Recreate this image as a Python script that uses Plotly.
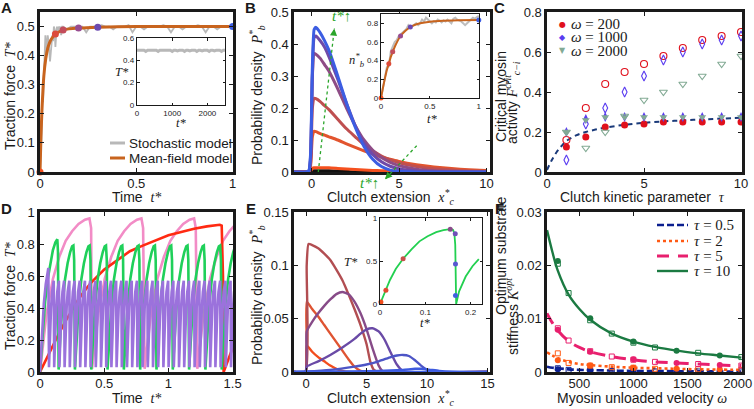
import plotly.graph_objects as go

W, H = 754, 409
SANS = "Liberation Sans"
SERIF = "Liberation Serif"
INK = "#1a1a1a"
GREEN_ARROW = "#2aa52a"
NB = "\u00a0"

# ---------------- data ----------------
# A : traction force vs time
tA_mf = [0, 0.005, 0.01, 0.02, 0.03, 0.04, 0.05, 0.06, 0.08, 0.1, 0.12, 0.15, 0.2, 0.3, 0.5, 0.75, 1.0]
TA_mf = [0, 0.12, 0.21, 0.33, 0.39, 0.425, 0.445, 0.458, 0.474, 0.482, 0.488, 0.492, 0.495, 0.498, 0.5, 0.5, 0.5]
tA_early = [0, 0.004, 0.008, 0.012, 0.016, 0.02, 0.024, 0.028, 0.032, 0.036, 0.04, 0.044, 0.048, 0.052,
            0.056, 0.06, 0.064, 0.068, 0.072, 0.076, 0.08, 0.084, 0.088, 0.092, 0.096, 0.1, 0.105, 0.11, 0.115]
TA_early = [0, 0.05, 0.13, 0.25, 0.24, 0.33, 0.42, 0.47, 0.41, 0.44, 0.47, 0.45, 0.40, 0.38,
            0.41, 0.46, 0.47, 0.45, 0.50, 0.49, 0.43, 0.47, 0.50, 0.48, 0.50, 0.49, 0.50, 0.47, 0.50]
TA_late = [0.50, 0.49, 0.50, 0.50, 0.50, 0.50, 0.48, 0.50, 0.50, 0.50, 0.505, 0.50, 0.50, 0.49, 0.50,
           0.50, 0.50, 0.505, 0.48, 0.50, 0.50, 0.49, 0.50, 0.50, 0.50, 0.50, 0.505, 0.50, 0.48, 0.50,
           0.50, 0.49, 0.50, 0.50, 0.50, 0.505, 0.50, 0.48, 0.50, 0.50, 0.49, 0.50, 0.50, 0.50, 0.50]
t_marks = [0, 0.08, 0.12, 0.2, 0.3, 1.0]
TA_marks = [0, 0.474, 0.488, 0.495, 0.498, 0.5]
mark_colors = ["#f5501e", "#dc4a3a", "#c34d5c", "#984c90", "#6c4ab0", "#3c5de2"]
TA_inset = [0.49, 0.49, 0.485, 0.49, 0.49, 0.48, 0.49, 0.49, 0.49, 0.485, 0.49, 0.49, 0.48, 0.49, 0.49,
            0.49, 0.485, 0.49, 0.49, 0.49, 0.48, 0.49, 0.49, 0.485, 0.49, 0.49, 0.49, 0.48, 0.49, 0.49,
            0.485, 0.49, 0.49, 0.49, 0.48, 0.49, 0.49, 0.485, 0.49, 0.49, 0.49, 0.48, 0.49, 0.49, 0.485,
            0.49, 0.49, 0.49, 0.48, 0.49, 0.49]

# B : bond-length densities
xB = [-1, -0.3, -0.15, -0.05, 0.05, 0.15, 0.25, 0.5, 0.75, 1, 1.5, 2, 2.5, 3, 3.5, 4, 4.5, 5, 6, 7, 8, 9, 10]
PB_black = [0, 0, 0, 0.002, 0.004, 0.004, 0.004, 0.004, 0.004, 0.004, 0.003, 0.002, 0, 0, 0, 0, 0, 0, 0, 0, 0, 0, 0]
PB_t1 = [0, 0, 0, 0.003, 0.011, 0.013, 0.013, 0.013, 0.013, 0.013, 0.011, 0.009, 0.0075, 0.006, 0.005, 0.004, 0.0035, 0.003, 0.002, 0.001, 0.0005, 0, 0]
PB_t2 = [0, 0, 0.001, 0.02, 0.11, 0.127, 0.126, 0.12, 0.115, 0.11, 0.1, 0.088, 0.077, 0.066, 0.056, 0.047, 0.04, 0.033, 0.023, 0.016, 0.011, 0.007, 0.005]
PB_t3 = [0, 0, 0.001, 0.03, 0.2, 0.23, 0.229, 0.22, 0.207, 0.195, 0.165, 0.135, 0.11, 0.085, 0.066, 0.05, 0.038, 0.029, 0.017, 0.01, 0.006, 0.003, 0.002]
PB_t4 = [0, 0, 0.002, 0.04, 0.3, 0.37, 0.368, 0.355, 0.335, 0.315, 0.26, 0.2, 0.145, 0.1, 0.068, 0.045, 0.03, 0.02, 0.009, 0.004, 0.002, 0.001, 0]
PB_t5 = [0, 0, 0.003, 0.05, 0.3, 0.42, 0.425, 0.41, 0.39, 0.36, 0.29, 0.215, 0.145, 0.09, 0.055, 0.032, 0.018, 0.01, 0.003, 0.001, 0, 0, 0]
PB_t6 = [0, 0, 0.004, 0.06, 0.33, 0.445, 0.452, 0.435, 0.41, 0.38, 0.30, 0.215, 0.14, 0.08, 0.04, 0.017, 0.006, 0.002, 0, 0, 0, 0, 0]
B_colors = ["#111111", "#f5501e", "#e2542e", "#bf4f50", "#8e4c86", "#6f4aa8", "#3c5de2"]
tB_mf = [0, 0.02, 0.04, 0.06, 0.08, 0.1, 0.12, 0.15, 0.2, 0.25, 0.3, 0.35, 0.4, 0.5, 0.6, 0.8, 1.0]
nB_mf = [0, 0.11, 0.21, 0.3, 0.366, 0.44, 0.495, 0.57, 0.664, 0.72, 0.76, 0.785, 0.8, 0.818, 0.826, 0.832, 0.836]
nB_st = [0, 0.12, 0.22, 0.33, 0.34, 0.5, 0.55, 0.6, 0.62, 0.66, 0.68, 0.7, 0.71, 0.74, 0.78, 0.76, 0.77,
         0.79, 0.8, 0.78, 0.8, 0.84, 0.82, 0.86, 0.84, 0.83, 0.8, 0.82, 0.81, 0.84, 0.83, 0.81, 0.83,
         0.82, 0.84, 0.82, 0.8, 0.85, 0.86, 0.84, 0.83, 0.82, 0.8, 0.78, 0.8, 0.82, 0.84, 0.86, 0.85,
         0.87, 0.88]
nB_marks = [0, 0.366, 0.495, 0.664, 0.76, 0.836]

# C : critical myosin activity
tau_C = [1, 2, 3, 4, 5, 6, 7, 8, 9, 10]
F200_open = [0.16, 0.32, 0.44, 0.50, 0.54, 0.58, 0.62, 0.66, 0.68, 0.70]
F200_fill = [0.125, 0.175, 0.225, 0.235, 0.24, 0.25, 0.25, 0.25, 0.25, 0.25]
F1000_open = [0.06, 0.24, 0.32, 0.40, 0.48, 0.56, 0.60, 0.64, 0.66, 0.68]
F1000_fill = [0.20, 0.265, 0.275, 0.275, 0.275, 0.275, 0.275, 0.275, 0.275, 0.275]
F2000_open = [0.20, 0.12, 0.20, 0.28, 0.36, 0.40, 0.44, 0.48, 0.54, 0.58]
F2000_fill = [0.20, 0.26, 0.275, 0.275, 0.275, 0.275, 0.275, 0.275, 0.275, 0.275]
tau_fit = [0, 0.25, 0.5, 0.75, 1, 1.5, 2, 2.5, 3, 4, 5, 6, 7, 8, 9, 10]
F_fit = [0.01, 0.06, 0.1, 0.13, 0.155, 0.183, 0.2, 0.212, 0.222, 0.236, 0.246, 0.253, 0.258, 0.263, 0.267, 0.271]
C_colors = ["#e0101c", "#5a3cf0", "#82aa94"]

red_t = [0, 0.05, 0.1, 0.15, 0.2, 0.25, 0.3, 0.35, 0.4, 0.5, 0.6, 0.7, 0.8, 0.9, 1.0, 1.1, 1.2, 1.3, 1.4, 1.415, 1.425, 1.43, 1.5]
red_T = [0, 0.085, 0.165, 0.245, 0.32, 0.39, 0.455, 0.51, 0.56, 0.64, 0.7, 0.755, 0.79, 0.825, 0.855, 0.875, 0.895, 0.91, 0.92, 0.915, 0.6, 0.0, 0.15]
pink_first_t = [0, 0.025, 0.05, 0.1, 0.15, 0.2, 0.25, 0.3, 0.35, 0.385, 0.398, 0.405]
pink_first_T = [0, 0.2, 0.36, 0.58, 0.72, 0.82, 0.88, 0.925, 0.952, 0.96, 0.9, 0.02]
pink_cycle_dt = [0, 0.025, 0.05, 0.1, 0.15, 0.2, 0.25, 0.3, 0.35, 0.385, 0.398, 0.41]
pink_cycle_T = [0.02, 0.21, 0.37, 0.585, 0.72, 0.82, 0.88, 0.925, 0.952, 0.96, 0.9, 0.02]
green_first_t = [0, 0.02, 0.04, 0.06, 0.08, 0.1, 0.12, 0.135, 0.14, 0.145]
green_first_T = [0, 0.25, 0.44, 0.58, 0.68, 0.76, 0.81, 0.83, 0.75, 0.015]
green_cycle_dt = [0, 0.015, 0.03, 0.05, 0.07, 0.09, 0.105, 0.115, 0.121, 0.127]
green_cycle_T = [0.015, 0.25, 0.42, 0.58, 0.68, 0.75, 0.785, 0.79, 0.7, 0.015]
purple_first_t = [0, 0.015, 0.03, 0.045, 0.06, 0.065, 0.07]
purple_first_T = [0, 0.25, 0.43, 0.55, 0.63, 0.65, 0.03]
purple_cycle_dt = [0, 0.008, 0.016, 0.024, 0.032, 0.037, 0.0405]
purple_cycle_T = [0.03, 0.25, 0.4, 0.5, 0.56, 0.57, 0.03]
D_colors = {"red": "#ff2a12", "pink": "#f28cc6", "green": "#1fd05a", "purple": "#9b72dc"}

# E : bond-length densities (oscillating case)
E_curves = [
    ([-1, -0.05, 0.05, 0.5, 1, 1.5, 2, 2.5, 3, 3.5, 15],
     [0, 0, 0.025, 0.019, 0.014, 0.01, 0.006, 0.003, 0.001, 0, 0], "#f24d1d"),
    ([-1, -0.05, 0.05, 0.5, 1, 1.5, 2, 2.5, 3, 3.5, 4, 4.5, 5, 15],
     [0, 0, 0.066, 0.059, 0.052, 0.044, 0.036, 0.028, 0.02, 0.012, 0.005, 0.001, 0, 0], "#df5432"),
    ([-1, -0.05, 0.05, 0.2, 0.5, 1, 1.5, 2, 2.5, 3, 3.5, 4, 4.5, 5, 5.3, 5.6, 6, 15],
     [0, 0, 0.1, 0.12, 0.119, 0.116, 0.111, 0.105, 0.096, 0.086, 0.073, 0.059, 0.044, 0.026, 0.01, 0.002, 0, 0], "#b24e52"),
    ([-1, -0.05, 0.05, 0.5, 1, 1.5, 2, 2.5, 3, 3.5, 4, 4.5, 5, 5.5, 6, 6.3, 6.6, 15],
     [0, 0, 0.038, 0.047, 0.055, 0.062, 0.068, 0.073, 0.075, 0.073, 0.066, 0.055, 0.04, 0.022, 0.006, 0.001, 0, 0], "#874b88"),
    ([-1, -0.05, 0.05, 1, 2, 3, 4, 4.5, 5, 5.5, 6, 6.5, 7, 7.5, 8, 8.5, 15],
     [0, 0, 0.005, 0.01, 0.016, 0.023, 0.031, 0.036, 0.04, 0.041, 0.038, 0.03, 0.018, 0.007, 0.001, 0, 0], "#6a4aa6"),
    ([-1, 0, 2, 4, 5, 6, 7, 7.5, 8, 8.5, 9, 9.5, 10, 10.5, 15],
     [0, 0.0005, 0.002, 0.005, 0.007, 0.01, 0.014, 0.0155, 0.016, 0.015, 0.011, 0.006, 0.002, 0, 0], "#4d55c6"),
    ([-1, 0, 4, 6, 8, 9, 9.5, 10, 11, 12, 13, 15],
     [0, 0, 0.0005, 0.001, 0.002, 0.003, 0.003, 0.0025, 0.001, 0.0002, 0, 0], "#3d5ade"),
    ([-1, 15], [0, 0], "#4262e6"),
]
tE = [0, 0.005, 0.013, 0.022, 0.035, 0.051, 0.07, 0.087, 0.105, 0.124, 0.14, 0.155, 0.161, 0.164, 0.166,
      0.167, 0.168, 0.1745, 0.18, 0.189, 0.204, 0.218]
TE = [0, 0.06, 0.16, 0.28, 0.41, 0.527, 0.64, 0.73, 0.79, 0.837, 0.86, 0.872, 0.864, 0.826, 0.69,
      0.35, 0.0, 0.147, 0.22, 0.32, 0.44, 0.523]
tE_marks = [0.002, 0.013, 0.051, 0.155, 0.166, 0.1665, 0.1665]
TE_marks = [0.023, 0.16, 0.527, 0.872, 0.818, 0.465, 0.1]
E_mark_colors = ["#f24d1d", "#e04a30", "#c8504a", "#8a4c8a", "#7050b8", "#5858d0", "#4060e0"]

# F : optimum substrate stiffness
wF = [200, 250, 300, 400, 500, 600, 800, 1000, 1200, 1400, 1600, 1800, 2000]
K10 = [0.0266, 0.0225, 0.019, 0.0145, 0.0118, 0.0098, 0.0072, 0.0057, 0.0047, 0.0040, 0.0035, 0.0031, 0.0027]
K5 = [0.011, 0.0092, 0.0078, 0.0058, 0.0046, 0.0038, 0.0029, 0.0023, 0.0019, 0.0017, 0.0015, 0.0013, 0.0012]
K2 = [0.0037, 0.0031, 0.0026, 0.0019, 0.0015, 0.0013, 0.001, 0.0008, 0.0007, 0.0006, 0.0005, 0.00045, 0.0004]
K05 = [0.001, 0.0008, 0.0007, 0.0005, 0.0004, 0.00035, 0.00027, 0.0002, 0.00017, 0.00015, 0.00013, 0.00011, 0.0001]
wF_fill = [300, 600, 1000, 1400, 1800]
wF_open = [300, 400, 600, 800, 1000, 1200, 1600, 2000]
K10_fill = [0.0208, 0.0101, 0.0057, 0.0040, 0.0031]
K10_open = [0.0203, 0.0148, 0.0097, 0.0072, 0.0055, 0.0046, 0.0036, 0.0028]
K5_fill = [0.0079, 0.0038, 0.0024, 0.0017, 0.0013]
K5_open = [0.0082, 0.0059, 0.0039, 0.0029, 0.0023, 0.0019, 0.0015, 0.0012]
K2_fill = [0.0022, 0.0012, 0.0008, 0.0006, 0.0005]
K2_open = [0.0035, 0.0017, 0.0012, 0.0009, 0.0008, 0.0006, 0.0005, 0.0004]
K05_fill = [0.0005, 0.0003, 0.0002, 0.00015, 0.0001]
K05_open = [0.0007, 0.0004, 0.0003, 0.0002, 0.0002, 0.0001, 0.0001, 0.0001]
F_series = [("0.5", K05, K05_fill, K05_open, "#0b1f8f", "7px,3px", 2.6),
            ("2", K2, K2_fill, K2_open, "#ff5a14", "dot", 2.6),
            ("5", K5, K5_fill, K5_open, "#e8206e", "12px,9px", 3),
            ("10", K10, K10_fill, K10_open, "#1b7a42", None, 2.4)]

# ---------------- helpers ----------------
def M(s):
    return f'<span style="font-family:{SERIF}"><i>{s}</i></span>'

def px(x):
    return x / W

def py(y):
    return 1 - y / H

fig = go.Figure()

def add(x, y, xa, ya, mode="lines", **kw):
    fig.add_trace(go.Scatter(x=x, y=y, mode=mode, xaxis=xa, yaxis=ya, showlegend=False,
                             hoverinfo="skip", **kw))

def tile(first_t, first_T, cyc_dt, cyc_T, t_end):
    t, T = list(first_t), list(first_T)
    start, period = first_t[-1], cyc_dt[-1]
    while start < t_end:
        for dt, v in zip(cyc_dt[1:], cyc_T[1:]):
            t.append(start + dt)
            T.append(v)
        start += period
    return t, T

# ---------------- A ----------------
tA_late = [0.12 + 0.02 * i for i in range(len(TA_late))]
add(tA_early + tA_late, TA_early + TA_late, "x", "y", line=dict(color="#b8b8b8", width=1.8))
add(tA_mf, TA_mf, "x", "y", line=dict(color="#c8641e", width=3, shape="spline", smoothing=0.6))
add(t_marks, TA_marks, "x", "y", mode="markers", marker=dict(color=mark_colors, size=7), cliponaxis=False)
tA_in = [50 * i for i in range(len(TA_inset))]
add(tA_in, TA_inset, "x7", "y7", line=dict(color="#b8b8b8", width=3))

# ---------------- B ----------------
for yv, c in zip([PB_black, PB_t1, PB_t2, PB_t3, PB_t4, PB_t5, PB_t6], B_colors):
    add(xB, yv, "x2", "y2", line=dict(color=c, width=3, shape="spline", smoothing=0.5))
tB_st = [0.02 * i for i in range(len(nB_st))]
add(tB_st, nB_st, "x8", "y8", line=dict(color="#bdbdbd", width=2))
add(tB_mf, nB_mf, "x8", "y8", line=dict(color="#c8641e", width=2, shape="spline", smoothing=0.6))
add(t_marks, nB_marks, "x8", "y8", mode="markers", marker=dict(color=mark_colors, size=5), cliponaxis=False)

# ---------------- C ----------------
add(tau_fit, F_fit, "x3", "y3", line=dict(color="#1a3a7a", width=2, dash="5px,4px", shape="spline"))
for fo, ff, c, sym in [(F200_open, F200_fill, C_colors[0], "circle"),
                       (F1000_open, F1000_fill, C_colors[1], "diamond-tall"),
                       (F2000_open, F2000_fill, C_colors[2], "triangle-down")]:
    add(tau_C, fo, "x3", "y3", mode="markers",
        marker=dict(symbol=sym + "-open", color=c, size=7, line=dict(width=1.1, color=c)))
    add(tau_C, ff, "x3", "y3", mode="markers", marker=dict(symbol=sym, color=c, size=7))

# ---------------- D ----------------
pt, pT = tile(pink_first_t, pink_first_T, pink_cycle_dt, pink_cycle_T, 1.5)
gt, gT = tile(green_first_t, green_first_T, green_cycle_dt, green_cycle_T, 1.5)
ut, uT = tile(purple_first_t, purple_first_T, purple_cycle_dt, purple_cycle_T, 1.5)
add(pt, pT, "x4", "y4", line=dict(color=D_colors["pink"], width=2.6))
add(red_t, red_T, "x4", "y4", line=dict(color=D_colors["red"], width=2.6))
add(gt, gT, "x4", "y4", line=dict(color=D_colors["green"], width=2.6))
add(ut, uT, "x4", "y4", line=dict(color=D_colors["purple"], width=2.6))

# ---------------- E ----------------
for xv, yv, c in E_curves:
    add(xv, yv, "x5", "y5", line=dict(color=c, width=2.4, shape="spline", smoothing=0.5))
add(tE, TE, "x9", "y9", line=dict(color="#22d050", width=1.8))
add(tE_marks, TE_marks, "x9", "y9", mode="markers", marker=dict(color=E_mark_colors, size=5), cliponaxis=False)

# ---------------- F ----------------
for name, K, Kf, Ko, c, dash, lw in F_series:
    add(wF, K, "x6", "y6", line=dict(color=c, width=lw, dash=dash, shape="spline"))
for name, K, Kf, Ko, c, dash, lw in F_series:
    add(wF_fill, Kf, "x6", "y6", mode="markers", marker=dict(color=c, size=6), cliponaxis=False)
    add(wF_open, Ko, "x6", "y6", mode="markers",
        marker=dict(symbol="square-open", color=c, size=5, line=dict(width=1, color=c)), cliponaxis=False)

# ---------------- axes ----------------
def axis(domain, rng, tickvals, ticktext, anchor, lw=2.6, tl=4, tf=13, standoff=0):
    return dict(domain=domain, range=rng, tickvals=tickvals, ticktext=ticktext, anchor=anchor,
                showline=True, linewidth=lw, linecolor=INK, mirror="ticks", ticks="inside",
                ticklen=tl, tickwidth=1, tickcolor=INK, showgrid=False, zeroline=False,
                tickfont=dict(family=SANS, size=tf, color=INK), automargin=False, fixedrange=True,
                ticklabelstandoff=standoff, ticklabeloverflow="allow")

def dx(a, b):
    return [px(a), px(b)]

def dy(a, b):
    return [py(b), py(a)]

IN = dict(lw=1.2, tl=2.5, tf=8)
SX = dict(standoff=-2)
layout_axes = {
    "xaxis": axis(dx(40, 233), [0, 1.002], [0, 0.5, 1], ["0", "0.5", "1"], "y", **SX),
    "yaxis": axis(dy(12, 172), [0, 0.55], [0, 0.1, 0.2, 0.3, 0.4, 0.5], ["0", "0.1", "0.2", "0.3", "0.4", "0.5"], "x"),
    "xaxis2": axis(dx(294, 490), [-1, 10.2], [0, 5, 10], ["0", "5", "10"], "y2", **SX),
    "yaxis2": axis(dy(12, 172), [0, 0.5], [0, 0.1, 0.2, 0.3, 0.4, 0.5], ["0", "0.1", "0.2", "0.3", "0.4", "0.5"], "x2"),
    "xaxis3": axis(dx(547, 742), [0, 10.05], [0, 5, 10], ["0", "5", "10"], "y3", **SX),
    "yaxis3": axis(dy(12, 172), [0, 0.8], [0, 0.2, 0.4, 0.6, 0.8], ["0", "0.2", "0.4", "0.6", "0.8"], "x3"),
    "xaxis4": axis(dx(40, 233), [0, 1.503], [0, 0.5, 1, 1.5], ["0", "0.5", "1", "1.5"], "y4", **SX),
    "yaxis4": axis(dy(212, 372), [0, 1], [0, 0.2, 0.4, 0.6, 0.8, 1], ["0", "0.2", "0.4", "0.6", "0.8", "1"], "x4"),
    "xaxis5": axis(dx(294, 490), [-1, 15.2], [0, 5, 10, 15], ["0", "5", "10", "15"], "y5", **SX),
    "yaxis5": axis(dy(212, 372), [0, 0.15], [0, 0.05, 0.1, 0.15], ["0", "0.05", "0.1", "0.15"], "x5"),
    "xaxis6": axis(dx(547, 742), [200, 2006], [500, 1000, 1500, 2000],
                   ["500", "1000", "1500", "2000" + NB + NB], "y6", **SX),
    "yaxis6": axis(dy(212, 372), [0, 0.03], [0, 0.01, 0.02, 0.03], ["0", "0.01", "0.02", "0.03"], "x6"),
    "xaxis7": axis(dx(137, 225), [0, 2500], [0, 1000, 2000], ["0", "1000", "2000"], "y7", **IN),
    "yaxis7": axis(dy(38, 105), [0, 0.6], [0, 0.2, 0.4, 0.6], ["0", "0.2", "0.4", "0.6"], "x7", **IN),
    "xaxis8": axis(dx(381, 479), [0, 1.002], [0, 0.5, 1], ["0", "0.5", "1"], "y8", **IN),
    "yaxis8": axis(dy(14, 98), [0, 0.9], [0, 0.2, 0.4, 0.6, 0.8], ["0", "0.2", "0.4", "0.6", "0.8"], "x8", **IN),
    "xaxis9": axis(dx(380, 482), [0, 0.225], [0, 0.1, 0.2], ["0", "0.1", "0.2"], "y9", **IN),
    "yaxis9": axis(dy(218, 304), [0, 1.002], [0, 0.5, 1], ["0", "0.5", "1"], "x9", **IN),
}

# ---------------- text ----------------
annotations = []
shapes = []

def ann(text, x, y, size=14, angle=0, family=SANS, color=INK, xanchor="center", yanchor="middle"):
    annotations.append(dict(text=text, x=px(x), y=py(y), xref="paper", yref="paper", showarrow=False,
                            textangle=angle, xanchor=xanchor, yanchor=yanchor,
                            font=dict(family=family, size=size, color=color)))

for lab, x, y in [("A", 6, 8), ("B", 251, 8), ("C", 499, 8), ("D", 6, 208), ("E", 251, 208), ("F", 499, 208)]:
    ann(f"<b>{lab}</b>", x, y, size=15)

ann("Traction force  " + M("T*"), 10, 96, angle=-90)
ann("Time  " + M("t*"), 136, 197)
ann("Probability density  " + M("P<sup>*</sup><sub>b</sub>"), 257, 95, angle=-90)
ann("Clutch extension  " + M("x<sup>*</sup><sub>c</sub>"), 390, 197)
ann("Critical myosin", 501, 97, angle=-90)
ann("activity " + M("F<sup>crit</sup><sub>c−i</sub>"), 512, 103, angle=-90)
ann("Clutch kinetic parameter  " + M("τ"), 642, 197)
ann("Traction force  " + M("T*"), 10, 296, angle=-90)
ann("Time  " + M("t*"), 136, 398)
ann("Probability density  " + M("P<sup>*</sup><sub>b</sub>"), 257, 295, angle=-90)
ann("Clutch extension  " + M("x<sup>*</sup><sub>c</sub>"), 390, 398)
ann("Optimum substrate", 501, 256, angle=-90)
ann("stiffness " + M("K<sup>opt</sup>"), 512, 317, angle=-90)
ann("Myosin unloaded velocity " + M("ω"), 642, 398)

# inset titles
ann("<i>T*</i>", 122, 72, size=12.5, family=SERIF)
ann("<i>t*</i>", 181, 123, size=12.5, family=SERIF)
ann("<i>n</i><sup><i>*</i></sup><sub><i>b</i></sub>", 357, 60, size=12.5, family=SERIF)
ann("<i>t*</i>", 432, 119, size=12.5, family=SERIF)
ann("<i>T*</i>", 351, 262, size=12.5, family=SERIF)
ann("<i>t*</i>", 425, 323, size=12.5, family=SERIF)

# legend A
for (lab, col), yy in zip([("Stochastic model", "#b8b8b8"), ("Mean-field model", "#c8641e")], [143, 158]):
    shapes.append(dict(type="line", xref="paper", yref="paper", x0=px(110), x1=px(125), y0=py(yy), y1=py(yy),
                       line=dict(color=col, width=3)))
    ann(lab, 127, yy, size=13.5, xanchor="left")

# legend C
for (val, col, glyph), yy in zip([("200", C_colors[0], "●"), ("1000", C_colors[1], "◆"), ("2000", C_colors[2], "▼")],
                                 [24, 37, 51]):
    ann(glyph, 562, yy, size=8, family="DejaVu Sans", color=col)
    ann(f"<i>ω</i> = {val}", 569, yy, size=15, family=SERIF, xanchor="left")

# legend F
for (name, K, Kf, Ko, c, dash, lw), yy in zip(F_series, [225, 241, 256, 271]):
    shapes.append(dict(type="line", xref="paper", yref="paper", x0=px(657), x1=px(688), y0=py(yy), y1=py(yy),
                       line=dict(color=c, width=lw, dash=dash)))
    ann(f"<i>τ</i> = {name}", 692, yy, size=15, family=SERIF, xanchor="left")

# green arrows in B
for (x0, y0, x1, y1) in [(318.3, 172, 334.3, 28.5), (416.7, 145.7, 385, 179.3)]:
    shapes.append(dict(type="line", xref="paper", yref="paper", x0=px(x0), y0=py(y0), x1=px(x1), y1=py(y1),
                       line=dict(color=GREEN_ARROW, width=1.3, dash="dot")))
    L = ((x0 - x1) ** 2 + (y0 - y1) ** 2) ** 0.5
    annotations.append(dict(text="", x=px(x1), y=py(y1), xref="paper", yref="paper", showarrow=True,
                            ax=(x0 - x1) / L * 6, ay=(y0 - y1) / L * 6, arrowhead=2, arrowsize=1.1,
                            arrowwidth=1.3, arrowcolor=GREEN_ARROW))
ann("<i>t*</i>↑", 341, 16, size=15, family=SERIF, color=GREEN_ARROW)
ann("<i>t*</i>↑", 369, 183, size=15, family=SERIF, color=GREEN_ARROW)

fig.update_layout(width=W, height=H, margin=dict(l=0, r=0, t=0, b=0),
                  paper_bgcolor="white", plot_bgcolor="white", showlegend=False,
                  annotations=annotations, shapes=shapes, **layout_axes)

fig.write_html("out.html", config={"displayModeBar": False, "staticPlot": True},
               post_script="document.body.style.margin='0px';document.body.style.padding='0px';"
                           "document.body.style.overflow='hidden';")
